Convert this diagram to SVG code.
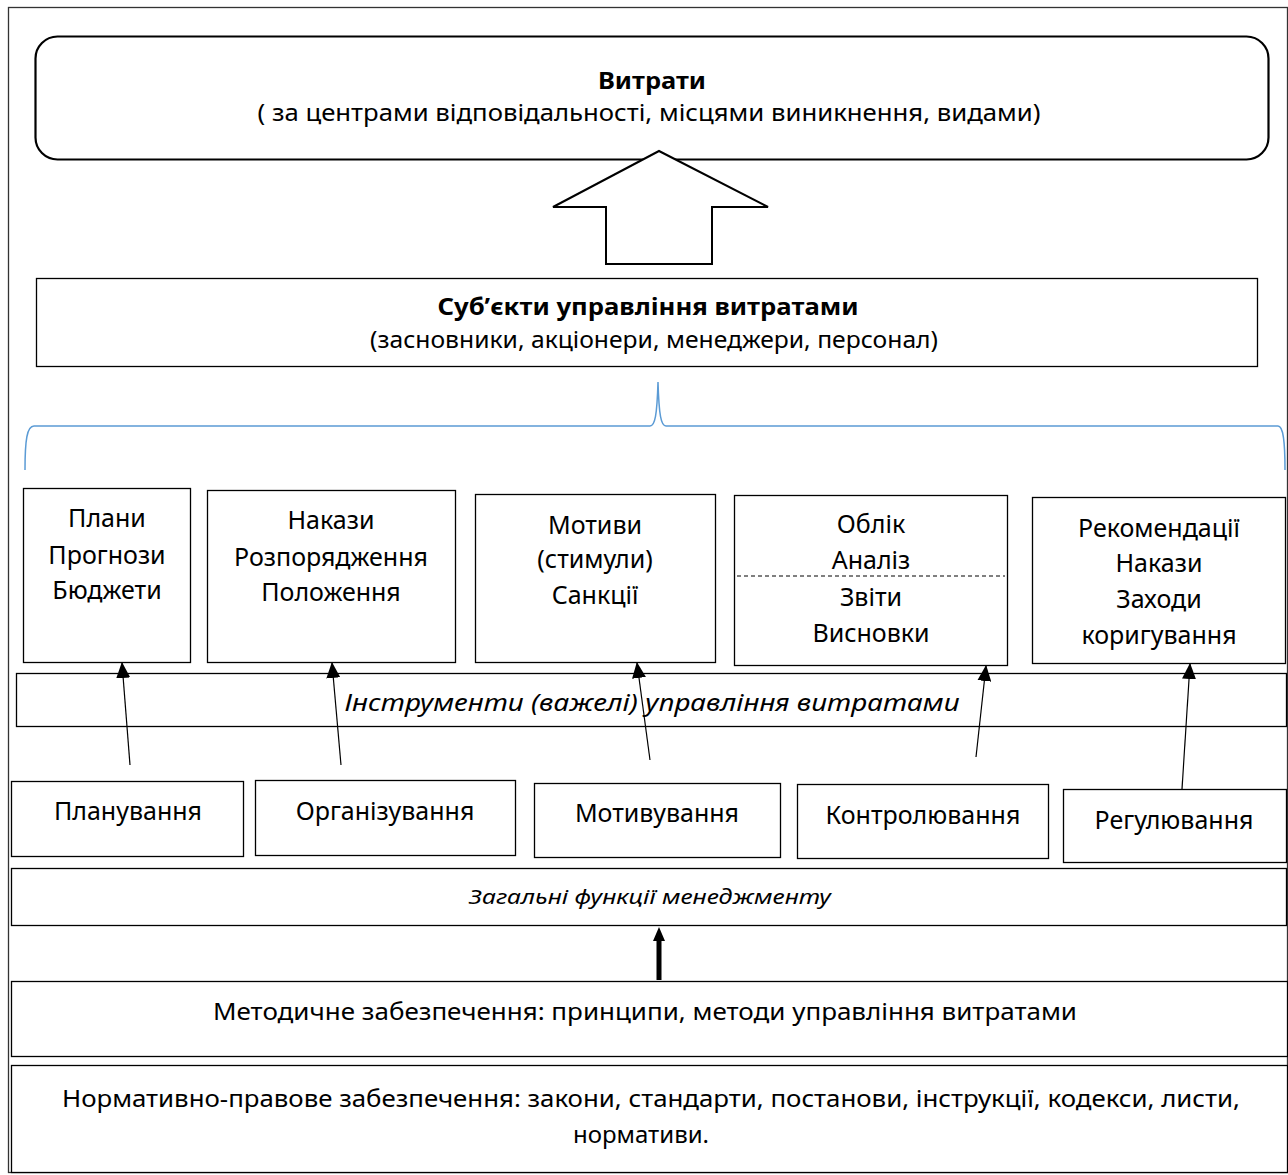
<svg xmlns="http://www.w3.org/2000/svg" width="1288" height="1175" viewBox="0 0 1288 1175">
<style>
text{font-family:"Noto Sans","Open Sans","Liberation Sans",sans-serif;fill:#000;text-anchor:middle}
.box{fill:#fff;stroke:#000;stroke-width:1.3}
.t{font-size:25px}
.f{font-size:24px}
.b{font-weight:bold;font-size:23px}
.s{font-size:23px}
.i{font-style:italic}
.con{stroke:#000;stroke-width:1.2;fill:none}
</style>
<defs>
<marker id="ah" markerUnits="userSpaceOnUse" markerWidth="16" markerHeight="14" refX="15" refY="7" orient="auto">
<path d="M0,0 L16,7 L0,14 Z" fill="#000"/>
</marker>
</defs>
<rect x="8.5" y="7.5" width="1279" height="1165" fill="#fff" stroke="#333" stroke-width="1.3"/>

<g id="costs">
<rect x="35.5" y="36.5" width="1233" height="123" rx="22" ry="22" fill="#fff" stroke="#000" stroke-width="2.2"/>
<text class="b" x="652" y="89" textLength="108" lengthAdjust="spacingAndGlyphs">Витрати</text>
<text class="s" x="649" y="121" textLength="783" lengthAdjust="spacingAndGlyphs">( за центрами відповідальності, місцями виникнення, видами)</text>
</g>

<g id="bigArrow">
<polygon points="659,151 553,207 606,207 606,264 712,264 712,207 768,207" fill="#fff" stroke="#000" stroke-width="2"/>
</g>

<g id="subjects">
<rect class="box" x="36.5" y="278.5" width="1221" height="88"/>
<text class="b" x="648" y="315" textLength="421" lengthAdjust="spacingAndGlyphs">Суб’єкти управління витратами</text>
<text class="s" x="654" y="348" textLength="568" lengthAdjust="spacingAndGlyphs">(засновники, акціонери, менеджери, персонал)</text>
</g>

<g id="brace">
<path d="M25,470 C25,440 27,426 34,426 L650,426 C655,426 657,415 658,382 C659,415 661,426 666,426 L1278,426 C1283,426 1285,440 1285,470" fill="none" stroke="#5B9BD5" stroke-width="1.5"/>
</g>

<g id="tool-plans">
<rect class="box" x="23.5" y="488.5" width="167" height="174"/>
<text class="t" x="107" y="527">Плани</text>
<text class="t" x="107" y="564">Прогнози</text>
<text class="t" x="107" y="599">Бюджети</text>
</g>
<g id="tool-orders">
<rect class="box" x="207.5" y="490.5" width="248" height="172"/>
<text class="t" x="331" y="529">Накази</text>
<text class="t" x="331" y="566">Розпорядження</text>
<text class="t" x="331" y="601">Положення</text>
</g>
<g id="tool-motives">
<rect class="box" x="475.5" y="494.5" width="240" height="168"/>
<text class="t" x="595" y="534">Мотиви</text>
<text class="t" x="595" y="568">(стимули)</text>
<text class="t" x="595" y="604">Санкції</text>
</g>
<g id="tool-accounting">
<rect class="box" x="734.5" y="495.5" width="273" height="170"/>
<text class="t" x="871" y="533">Облік</text>
<text class="t" x="871" y="569">Аналіз</text>
<line x1="737" y1="576" x2="1005" y2="576" stroke="#000" stroke-width="1" stroke-dasharray="4,3"/>
<text class="t" x="871" y="606">Звіти</text>
<text class="t" x="871" y="642">Висновки</text>
</g>
<g id="tool-recommend">
<rect class="box" x="1032.5" y="497.5" width="253" height="166"/>
<text class="t" x="1159" y="537">Рекомендації</text>
<text class="t" x="1159" y="572">Накази</text>
<text class="t" x="1159" y="608">Заходи</text>
<text class="t" x="1159" y="644">коригування</text>
</g>

<g id="instruments">
<rect class="box" x="16.5" y="673.5" width="1270" height="53"/>
<text class="f i" x="652" y="711" textLength="615" lengthAdjust="spacingAndGlyphs">Інструменти (важелі)  управління витратами</text>
</g>

<g id="fn-planning">
<rect class="box" x="11.5" y="781.5" width="232" height="75"/>
<text class="t" x="128" y="820">Планування</text>
</g>
<g id="fn-organizing">
<rect class="box" x="255.5" y="780.5" width="260" height="75"/>
<text class="t" x="385" y="820">Організування</text>
</g>
<g id="fn-motivating">
<rect class="box" x="534.5" y="783.5" width="246" height="74"/>
<text class="t" x="657" y="822">Мотивування</text>
</g>
<g id="fn-controlling">
<rect class="box" x="797.5" y="784.5" width="251" height="74"/>
<text class="t" x="923" y="824">Контролювання</text>
</g>
<g id="fn-regulating">
<rect class="box" x="1063.5" y="789.5" width="223" height="73"/>
<text class="t" x="1174" y="829">Регулювання</text>
</g>

<g id="general-functions">
<rect class="box" x="11.5" y="868.5" width="1275" height="57"/>
<text class="i" x="650" y="904" font-size="20" textLength="362" lengthAdjust="spacingAndGlyphs">Загальні функції менеджменту</text>
</g>

<g id="methodical">
<rect class="box" x="11.5" y="981.5" width="1276" height="75"/>
<text class="f" x="645" y="1020" textLength="864" lengthAdjust="spacingAndGlyphs">Методичне забезпечення: принципи, методи управління витратами</text>
</g>

<g id="normative">
<rect class="box" x="11.5" y="1065.5" width="1276" height="107"/>
<text class="f" x="651" y="1107" textLength="1178" lengthAdjust="spacingAndGlyphs">Нормативно-правове забезпечення: закони, стандарти, постанови, інструкції,  кодекси, листи,</text>
<text class="f" x="641" y="1143">нормативи.</text>
</g>

<g id="connectors">
<line class="con" x1="130" y1="765" x2="122" y2="663" marker-end="url(#ah)"/>
<line class="con" x1="341" y1="765" x2="332" y2="663" marker-end="url(#ah)"/>
<line class="con" x1="650" y1="760" x2="637" y2="663" marker-end="url(#ah)"/>
<line class="con" x1="976" y1="757" x2="986" y2="666" marker-end="url(#ah)"/>
<line class="con" x1="1182" y1="789" x2="1190" y2="664" marker-end="url(#ah)"/>
<polygon points="659,927 665,941 661.5,941 661.5,980 656.5,980 656.5,941 653,941" fill="#000"/>
</g>
</svg>
